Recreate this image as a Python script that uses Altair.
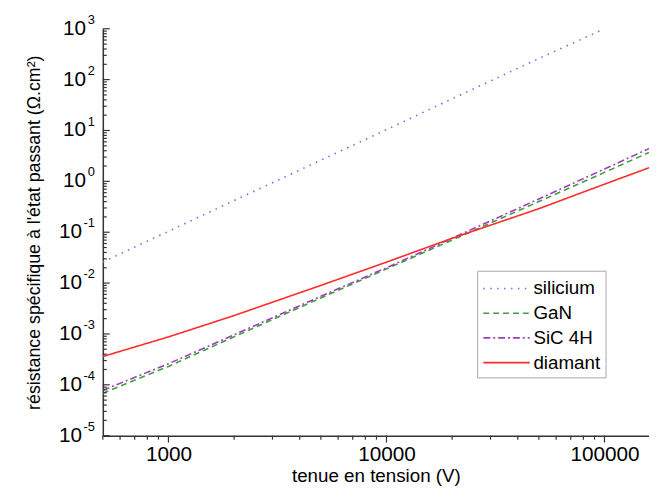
import altair as alt
import pandas as pd

# ---------------- data ----------------
voltage = [500, 1000, 2000, 5000, 10000, 20000, 50000, 100000, 160000]
silicium_voltage = [500, 1000, 2000, 5000, 10000, 20000, 50000, 100000]
silicium = [0.026, 0.104, 0.42, 2.6, 10.4, 42.0, 260.0, 1000.0]
gan = [6.8e-5, 2.3e-4, 8.8e-4, 5.1e-3, 0.019, 0.070, 0.40, 1.5, 3.7]
sic_4h = [7.8e-5, 2.6e-4, 9.6e-4, 5.5e-3, 0.020, 0.076, 0.45, 1.75, 4.4]
diamant = [3.6e-4, 8.74e-4, 2.3e-3, 9.0e-3, 0.0258, 0.076, 0.29, 0.88, 1.85]

series_names = ["silicium", "GaN", "SiC 4H", "diamant"]
series_colors = ["#6b6bff", "#3f9f3f", "#9d3fb8", "#ff2b2b"]
series_dashes = [[1.5, 5.5], [6, 4], [7, 3, 2, 3], [1, 0]]

x_major_labels = [1000, 10000, 100000]
y_exponents = [-5, -4, -3, -2, -1, 0, 1, 2, 3]

rows = []
for v, r in zip(silicium_voltage, silicium):
    rows.append({"V": v, "R": r, "materiau": "silicium"})
for name, vals in (("GaN", gan), ("SiC 4H", sic_4h), ("diamant", diamant)):
    for v, r in zip(voltage, vals):
        rows.append({"V": v, "R": r, "materiau": name})
df = pd.DataFrame(rows)

lab_df = pd.DataFrame({
    "R": [10.0 ** e for e in y_exponents],
    "exp": [str(e) for e in y_exponents],
    "base": ["10"] * len(y_exponents),
})

# axis tick positions (major = decades, minor = 2..9 multiples)
x_major_ticks = pd.DataFrame({"V": x_major_labels})
x_minor_ticks = pd.DataFrame({"V": [m * 10 ** e for e in (2, 3, 4, 5) for m in range(2, 10)
                                    if 500 <= m * 10 ** e <= 160000]})
y_major_ticks = pd.DataFrame({"R": [10.0 ** e for e in y_exponents]})
y_minor_ticks = pd.DataFrame({"R": [m * 10.0 ** e for e in range(-5, 3) for m in range(2, 10)]})

# ---------------- layout / style ----------------
W, H = 553, 412
FONT = "Liberation Sans"
AX = "#333333"

xs = alt.Scale(type="log", domain=[500, 160000], nice=False)
ys = alt.Scale(type="log", domain=[1e-5, 1e3], nice=False)

x_axis = alt.Axis(
    values=x_major_labels, ticks=False, format="d",
    labelOverlap=False, labelFlush=False, labelFontSize=21, labelFont=FONT,
    labelColor="black", labelPadding=8,
    title="tenue en tension (V)", titleFontSize=19, titleFont=FONT,
    titleFontWeight="normal", titleColor="black", titlePadding=2,
    domainColor=AX, domainWidth=1.5, grid=False,
)

y_axis = alt.Axis(
    orient="left", ticks=False, labels=False, grid=False,
    domainColor=AX, domainWidth=1.5,
    title="résistance spécifique à l'état passant (Ω.cm²)",
    titleFontSize=18, titleFont=FONT, titleFontWeight="normal",
    titleColor="black", titlePadding=60,
)

SYM = 552  # custom path below is 2*sqrt(size) px long
legend = alt.Legend(
    orient="none", legendX=379, legendY=245, symbolType="M-1,0H3",
    symbolSize=SYM, symbolStrokeWidth=1.6, labelFontSize=19, labelFont=FONT,
    labelColor="black", strokeColor="#a8a8a8", fillColor="white",
    padding=5, rowPadding=2, labelOffset=26, labelLimit=300,
)

lines = alt.Chart(df).mark_line(strokeWidth=1.6, clip=True).encode(
    x=alt.X("V:Q", scale=xs, axis=x_axis),
    y=alt.Y("R:Q", scale=ys, axis=y_axis),
    color=alt.Color("materiau:N", title=None,
                    scale=alt.Scale(domain=series_names, range=series_colors),
                    legend=legend),
    strokeDash=alt.StrokeDash("materiau:N", title=None,
                              scale=alt.Scale(domain=series_names, range=series_dashes),
                              legend=legend),
)

# x ticks: outward (below the axis)
x_major = alt.Chart(x_major_ticks).mark_rule(color=AX, strokeWidth=1.2).encode(
    x=alt.X("V:Q", scale=xs, axis=x_axis), y=alt.value(H), y2=alt.value(H + 7))
x_minor = alt.Chart(x_minor_ticks).mark_rule(color=AX, strokeWidth=1.2).encode(
    x=alt.X("V:Q", scale=xs, axis=x_axis), y=alt.value(H), y2=alt.value(H + 4))

# y ticks: inward (right of the axis)
y_major = alt.Chart(y_major_ticks).mark_rule(color=AX, strokeWidth=1.2).encode(
    y=alt.Y("R:Q", scale=ys, axis=y_axis), x=alt.value(0), x2=alt.value(7))
y_minor = alt.Chart(y_minor_ticks).mark_rule(color=AX, strokeWidth=1.2).encode(
    y=alt.Y("R:Q", scale=ys, axis=y_axis), x=alt.value(0), x2=alt.value(4))

# y tick labels 10^n with superscript exponents
exp_text = alt.Chart(lab_df).mark_text(
    align="right", baseline="middle", dy=-9, fontSize=13, font=FONT, color="black"
).encode(y=alt.Y("R:Q", scale=ys, axis=y_axis), x=alt.value(-8), text="exp:N")

base_pos = alt.Chart(lab_df).transform_filter("datum.R >= 1").mark_text(
    align="right", baseline="middle", fontSize=21, font=FONT, color="black"
).encode(y=alt.Y("R:Q", scale=ys, axis=y_axis), x=alt.value(-17), text="base:N")

base_neg = alt.Chart(lab_df).transform_filter("datum.R < 1").mark_text(
    align="right", baseline="middle", fontSize=21, font=FONT, color="black"
).encode(y=alt.Y("R:Q", scale=ys, axis=y_axis), x=alt.value(-21), text="base:N")

chart = alt.layer(
    lines, x_major, x_minor, y_major, y_minor, exp_text, base_pos, base_neg
).properties(
    width=W, height=H,
    autosize=alt.AutoSizeParams(type="none"),
    padding={"left": 96, "top": 18, "right": 0, "bottom": 53},
).configure_view(stroke=None)

chart.save("out.html", embed_options={"renderer": "svg", "actions": False})
